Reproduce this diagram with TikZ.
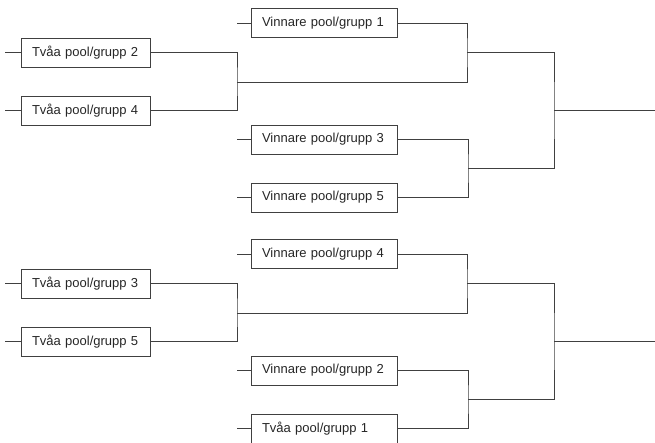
\documentclass[tikz,border=0pt]{standalone}
\usepackage{fontspec}
\setmainfont{Liberation Sans}
\usetikzlibrary{positioning}

\begin{document}
\begin{tikzpicture}[x=1pt, y=-1pt,
  lag/.style={rectangle, draw=black!75, line width=0.8pt, fill=white,
              minimum height=29pt, inner xsep=11pt, align=left,
              font=\fontsize{13}{15}\selectfont, text=black!85},
  tva/.style={lag, text width=107pt},
  vin/.style={lag, text width=124pt},
  ln/.style={draw=black!75, line width=0.8pt}
]
\useasboundingbox (0,0) rectangle (655,443);
% upper half
\node[vin] (v1) at (324,23)    {Vinnare pool/grupp 1};
\node[tva] (t2) at (85.5,52.5)  {Tvåa pool/grupp 2};
\node[tva] (t4) at (85.5,110.5) {Tvåa pool/grupp 4};
\node[vin] (v3) at (324,139.5) {Vinnare pool/grupp 3};
\node[vin] (v5) at (324,197.5) {Vinnare pool/grupp 5};
\coordinate (aA) at (237,82);
\coordinate (aB) at (467,52.5);
\coordinate (aC) at (468,168.5);
\coordinate (aD) at (554,110.5);
\coordinate (aE) at (655,110.5);
% lower half
\node[vin] (v4) at (324,254)   {Vinnare pool/grupp 4};
\node[tva] (t3) at (85.5,283.5) {Tvåa pool/grupp 3};
\node[tva] (t5) at (85.5,341.5) {Tvåa pool/grupp 5};
\node[vin] (v2) at (324,370.5) {Vinnare pool/grupp 2};
\node[vin] (t1) at (324,428.5) {Tvåa pool/grupp 1};
\coordinate (bA) at (237,313);
\coordinate (bB) at (467,283.5);
\coordinate (bC) at (468,399.5);
\coordinate (bD) at (554,341.5);
\coordinate (bE) at (655,341.5);
% stubs
\foreach \n in {t2, t4, t3, t5}
  \draw[ln] (\n.west) -- ++(-16,0);
\foreach \n in {v1, v3, v5, v4, v2, t1}
  \draw[ln] (\n.west) -- ++(-14,0);
% brackets
\foreach \h/\p/\q/\r/\s/\u in {a/t2/t4/v1/v3/v5, b/t3/t5/v4/v2/t1} {
  \draw[ln] (\p.east) -| (\h A) |- (\q.east);
  \draw[ln] (\r.east) -| (\h B) |- (\h A);
  \draw[ln] (\s.east) -| (\h C) |- (\u.east);
  \draw[ln] (\h B) -| (\h D) |- (\h C);
  \draw[ln] (\h D) -- (\h E);
}
\end{tikzpicture}
\end{document}
